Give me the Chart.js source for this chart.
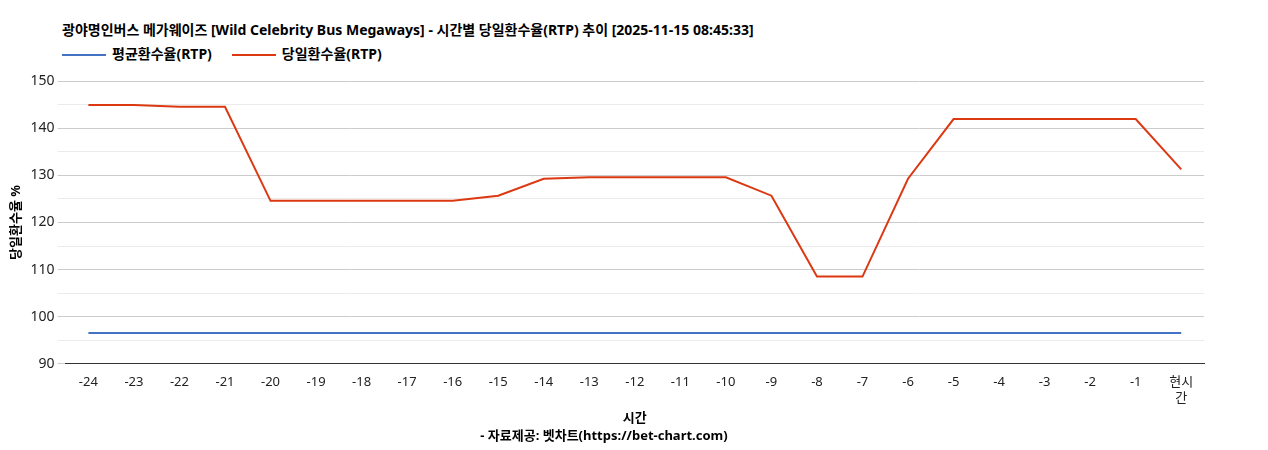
<!DOCTYPE html>
<html>
<head>
<meta charset="utf-8">
<script src="https://cdn.jsdelivr.net/npm/chart.js@4"></script>
<style>
  html, body { margin: 0; padding: 0; background: #fff; font-family: 'Noto Sans', 'Noto Sans CJK KR', sans-serif; }
  #wrap { width: 1268px; height: 450px; position: relative; }
  #head { position: absolute; left: 62px; top: 20px; color: #000; font-weight: bold; }
  #title { font-size: 14px; line-height: 20px; }
  #legend { font-size: 14px; line-height: 20px; margin-top: 4px; display: flex; gap: 20px; }
  #legend span i { display: inline-block; width: 44px; height: 2px; vertical-align: middle; margin-right: 6px; }
  #box { position: absolute; left: 0; top: 70px; width: 1268px; height: 380px; }
</style>
</head>
<body>
<div id="wrap">
  <div id="head">
    <div id="title">광야명인버스 메가웨이즈 [Wild Celebrity Bus Megaways] - 시간별 당일환수율(RTP) 추이 [2025-11-15 08:45:33]</div>
    <div id="legend"></div>
  </div>
  <div id="box"><canvas id="chart"></canvas></div>
</div>
<script>
const labels = ["-24","-23","-22","-21","-20","-19","-18","-17","-16","-15","-14","-13","-12","-11","-10","-9","-8","-7","-6","-5","-4","-3","-2","-1",["현시","간"]];
const avgRtp = [96.5,96.5,96.5,96.5,96.5,96.5,96.5,96.5,96.5,96.5,96.5,96.5,96.5,96.5,96.5,96.5,96.5,96.5,96.5,96.5,96.5,96.5,96.5,96.5,96.5];
const dayRtp = [145.0,145.0,144.6,144.6,124.6,124.6,124.6,124.6,124.6,125.7,129.3,129.6,129.6,129.6,129.6,125.7,108.5,108.5,129.3,142.0,142.0,142.0,142.0,142.0,131.3];
const seriesNames = ["평균환수율(RTP)", "당일환수율(RTP)"];
const seriesColors = ["#4472c4", "#dc3912"];

const font = "'Noto Sans', 'Noto Sans CJK KR', sans-serif";
Chart.defaults.font.family = font;
Chart.defaults.color = "#222";

document.getElementById("legend").innerHTML = seriesNames
  .map((n, i) => `<span><i style="background:${seriesColors[i]}"></i>${n}</span>`).join("");

new Chart(document.getElementById("chart"), {
  type: "line",
  data: {
    labels,
    datasets: [
      { label: seriesNames[0], data: avgRtp, borderColor: seriesColors[0], borderWidth: 2, pointRadius: 0, fill: false },
      { label: seriesNames[1], data: dayRtp, borderColor: seriesColors[1], borderWidth: 2, pointRadius: 0, fill: false }
    ]
  },
  options: {
    responsive: true,
    maintainAspectRatio: false,
    animation: false,
    layout: { padding: { left: 4, right: 64, top: 10, bottom: 4 } },
    plugins: {
      legend: { display: false },
      subtitle: {
        display: true, position: "bottom",
        text: "- 자료제공: 벳차트(https://bet-chart.com)",
        font: { size: 13, weight: "bold" }, color: "#000", padding: { top: 2, bottom: 2 }
      }
    },
    scales: {
      x: {
        offset: true,
        grid: { display: false },
        border: { color: "#333" },
        ticks: { font: { size: 13 }, color: "#222", maxRotation: 0, autoSkip: false },
        title: { display: true, text: "시간", font: { size: 13, weight: "bold" }, color: "#000", padding: { top: 2, bottom: 0 } }
      },
      y: {
        min: 90, max: 150,
        border: { display: false },
        ticks: { stepSize: 5, font: { size: 14 }, color: "#222",
          callback: v => (v % 10 === 0 ? v : "") },
        grid: { color: ctx => (ctx.tick && ctx.tick.value % 10 === 0 ? "#cccccc" : "#ebebeb") },
        title: { display: true, text: "당일환수율 %", font: { size: 13, weight: "bold" }, color: "#000" }
      }
    }
  }
});
</script>
</body>
</html>
